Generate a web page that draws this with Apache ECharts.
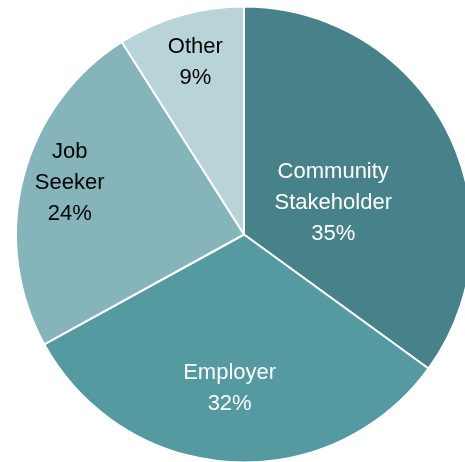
<!DOCTYPE html>
<html>
<head>
<meta charset="utf-8">
<style>
  html, body { margin: 0; padding: 0; background: #ffffff; }
  #chart { width: 465px; height: 462px; }
</style>
<script src="https://cdn.jsdelivr.net/npm/echarts@6/dist/echarts.min.js"></script>
</head>
<body>
<div id="chart"></div>
<script>
// Respondent types and their shares (percent)
const categories = ['Community\nStakeholder', 'Employer', 'Job\nSeeker', 'Other'];
const shares = [35, 32, 24, 9];

// Slice fills and label text colours
const sliceColors = ['#47828A', '#5599A1', '#85B4BA', '#B9D4D8'];
const labelColors = ['#ffffff', '#ffffff', '#000000', '#000000'];
// Nudges from the default inside-label spot toward the spot used in the report
const labelOffsets = [[-15, 22], [-7, 37], [-61, -22], [-16, -60]];

const chart = echarts.init(document.getElementById('chart'), null, { renderer: 'canvas' });

chart.setOption({
  animation: false,
  backgroundColor: '#ffffff',
  series: [{
    type: 'pie',
    center: [244, 234.5],
    radius: [0, 228],
    startAngle: 90,
    clockwise: true,
    avoidLabelOverlap: false,
    itemStyle: { borderColor: '#ffffff', borderWidth: 2 },
    label: {
      show: true,
      position: 'inside',
      formatter: '{b}\n{c}%',
      fontFamily: 'Liberation Sans, Arial, sans-serif',
      fontSize: 22,
      lineHeight: 31,
      align: 'center'
    },
    labelLine: { show: false },
    emphasis: { disabled: true },
    data: categories.map((name, i) => ({
      name: name,
      value: shares[i],
      itemStyle: { color: sliceColors[i] },
      label: { color: labelColors[i], offset: labelOffsets[i] }
    }))
  }]
});
</script>
</body>
</html>
